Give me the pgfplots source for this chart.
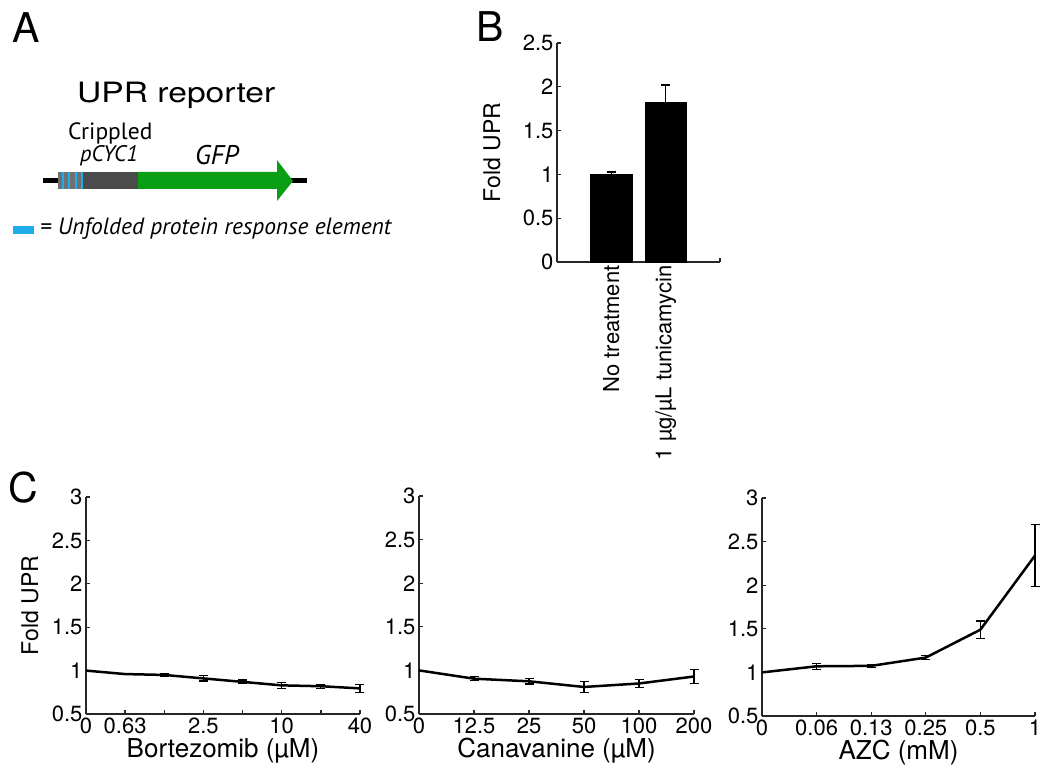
\documentclass[border=0pt]{standalone}
\usepackage{fontspec}
\setmainfont{TeX Gyre Heros}
\newfontfamily\myr{PT Sans}
\usepackage{graphicx}
\usepackage{pgfplots}
\pgfplotsset{compat=1.18}
\definecolor{upblue}{HTML}{1FAEEA}
\definecolor{gfpgreen}{HTML}{0A9E14}
\definecolor{promgrey}{HTML}{4B4B4B}
\definecolor{stripgrey}{HTML}{707070}
\definecolor{axgrey}{HTML}{262626}
\pgfplotsset{
 fup/.style={
  scale only axis, anchor=south west,
  axis lines*=left, axis line style={-, line width=1.3pt, axgrey},
  tick style={line width=1.3pt, axgrey}, tick align=inside, major tick length=4pt,
  ticklabel style={font=\fontsize{22}{22}\selectfont},
  /pgf/number format/assume math mode=true,
  ylabel style={font=\fontsize{23}{23}\selectfont},
  xlabel style={font=\fontsize{26}{26}\selectfont},
  clip=false,
 },
 dline/.style={black, line width=2.5pt, line join=round},
 ebars/.style={draw=none, mark=none, forget plot,
  error bars/.cd, y dir=both, y explicit,
  error bar style={line width=1.2pt, black},
  error mark options={rotate=90, line width=1.2pt, black, mark size=4.5pt}},
}
\begin{document}
\begin{tikzpicture}[x=1pt,y=1pt]
\useasboundingbox (0,0) rectangle (1041,774);
\begin{scope}[yshift=774pt, y=-1pt]
% panel letters
\node[anchor=base west, inner sep=0, font=\fontsize{41}{41}\selectfont] at (12,43) {A};
\node[anchor=base west, inner sep=0, font=\fontsize{41}{41}\selectfont] at (476,42) {B};
\node[anchor=base west, inner sep=0, font=\fontsize{41}{41}\selectfont] at (8,503) {C};
% panel A diagram
\node[anchor=base west, inner sep=0, font=\fontsize{28}{28}\selectfont] at (77,103) {\scalebox{1.2}[1]{UPR reporter}};
\node[anchor=base west, inner sep=0, font=\myr\fontsize{23.5}{23.5}\selectfont] at (68,140) {Crippled};
\node[anchor=base west, inner sep=0, font=\myr\itshape\fontsize{22.5}{22.5}\selectfont] at (80,162) {pCYC1};
\node[anchor=base west, inner sep=0, font=\myr\itshape\fontsize{27}{27}\selectfont] at (195,165) {GFP};
\fill[black] (43,178.5) rectangle (307,183.5);
\fill[stripgrey] (58,172) rectangle (83,189);
\fill[promgrey] (83,172) rectangle (138,189);
\foreach \s in {61.5,68,74.5,81}{\fill[upblue] (\s,172) rectangle (\s+2.4,189);}
\fill[gfpgreen] (138,172) -- (277,172) -- (277,160) -- (293,181) -- (277,201) -- (277,189) -- (138,189) -- cycle;
\fill[upblue] (13,226) rectangle (34,234);
\node[anchor=base west, inner sep=0, font=\myr\itshape\fontsize{23.5}{23.5}\selectfont] at (40,235) {= Unfolded protein response element};
\end{scope}
% panel B
\begin{axis}[fup, at={(557pt,512pt)}, width=163pt, height=219pt,
  xmin=0, xmax=3, ymin=0, ymax=2.5,
  xtick={0,1,2,3}, xticklabels={,No treatment,1 µg/µL tunicamycin,},
  xticklabel style={rotate=90, anchor=east},
  ytick={0,0.5,1,1.5,2,2.5}, yticklabels={0,0.5,1,1.5,2,2.5},
  ylabel={Fold UPR}, ylabel style={at={([xshift=-65pt]rel axis cs:0,0.5)}, anchor=center}]
\addplot[ybar, bar width=0.76, fill=black, draw=black,
  error bars/.cd, y dir=plus, y explicit,
  error bar style={line width=1.2pt, black},
  error mark options={rotate=90, line width=1.2pt, black, mark size=4.5pt}]
  coordinates {(1,1.0) +- (0,0.028) (2,1.82) +- (0,0.2)};
\end{axis}
% panel C1
\begin{axis}[fup, at={(86pt,60pt)}, width=274pt, height=217pt,
  xmin=0, xmax=7, ymin=0.5, ymax=3,
  xtick={0,...,7}, xticklabels={0,0.63,,2.5,,10,,40},
  ytick={0.5,1,1.5,2,2.5,3}, yticklabels={0.5,1,1.5,2,2.5,3},
  xlabel={Bortezomib (µM)}, xlabel style={at={([yshift=-37pt]rel axis cs:0.5,0)}, anchor=center},
  ylabel={Fold UPR}, ylabel style={at={([xshift=-56pt]rel axis cs:0,0.5)}, anchor=center}]
\addplot[dline] coordinates {(0,1.0) (1,0.96) (2,0.95) (3,0.91) (4,0.87) (5,0.83) (6,0.82) (7,0.795)};
\addplot[ebars] coordinates {(1,0.96) +- (0,0.008) (2,0.95) +- (0,0.012) (3,0.91) +- (0,0.03) (4,0.87) +- (0,0.022) (5,0.83) +- (0,0.034) (6,0.82) +- (0,0.022) (7,0.795) +- (0,0.046)};
\end{axis}
% panel C2
\begin{axis}[fup, at={(419pt,60pt)}, width=275pt, height=218pt,
  xmin=0, xmax=5, ymin=0.5, ymax=3,
  xtick={0,...,5}, xticklabels={0,12.5,25,50,100,200},
  ytick={0.5,1,1.5,2,2.5,3}, yticklabels={0.5,1,1.5,2,2.5,3},
  xlabel={Canavanine (µM)}, xlabel style={at={([yshift=-37pt]rel axis cs:0.5,0)}, anchor=center}]
\addplot[dline] coordinates {(0,1.0) (1,0.905) (2,0.875) (3,0.81) (4,0.85) (5,0.93)};
\addplot[ebars] coordinates {(1,0.905) +- (0,0.022) (2,0.875) +- (0,0.03) (3,0.81) +- (0,0.062) (4,0.85) +- (0,0.045) (5,0.93) +- (0,0.082)};
\end{axis}
% panel C3
\begin{axis}[fup, at={(762pt,58pt)}, width=273pt, height=218pt,
  xmin=0, xmax=5, ymin=0.5, ymax=3,
  xtick={0,...,5}, xticklabels={0,0.06,0.13,0.25,0.5,1},
  ytick={0.5,1,1.5,2,2.5,3}, yticklabels={0.5,1,1.5,2,2.5,3},
  xlabel={AZC (mM)}, xlabel style={at={([yshift=-37pt]rel axis cs:0.5,0)}, anchor=center}]
\addplot[dline] coordinates {(0,1.0) (1,1.07) (2,1.075) (3,1.17) (4,1.49) (5,2.34)};
\addplot[ebars] coordinates {(1,1.07) +- (0,0.033) (2,1.075) +- (0,0.015) (3,1.17) +- (0,0.025) (4,1.49) +- (0,0.1) (5,2.34) +- (0,0.355)};
\end{axis}
\end{tikzpicture}
\end{document}
